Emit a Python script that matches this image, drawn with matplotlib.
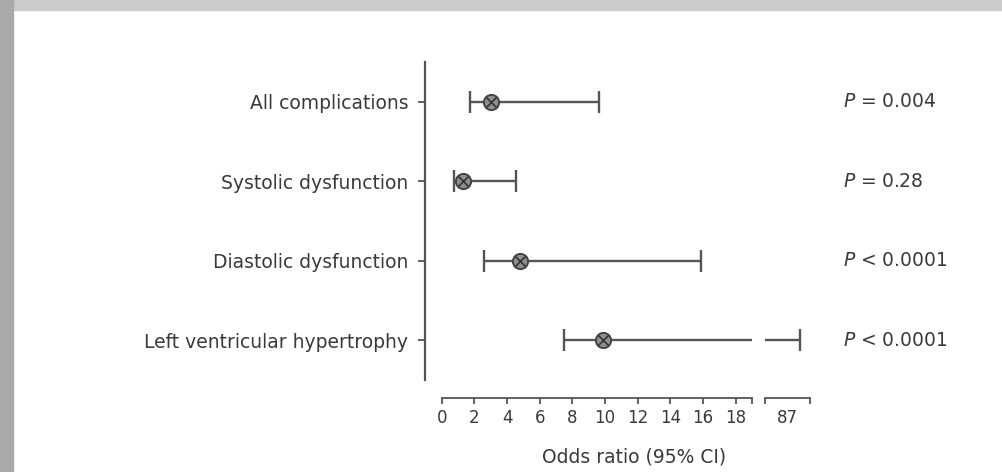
import matplotlib
matplotlib.use('Agg')
import matplotlib.pyplot as plt
from matplotlib.patches import Rectangle
from matplotlib.transforms import blended_transform_factory
import numpy as np

# data
outcomes = ['All complications', 'Systolic dysfunction',
            'Diastolic dysfunction', 'Left ventricular hypertrophy']
odds = [3.0, 1.33, 4.8, 9.9]
ci_low = [1.74, 0.75, 2.6, 7.5]
ci_high = [9.65, 4.54, 15.85, 87.8]
p_labels = ['$P$ = 0.004', '$P$ = 0.28', '$P$ < 0.0001', '$P$ < 0.0001']
x_ticks = [0, 2, 4, 6, 8, 10, 12, 14, 16, 18]

plt.rcParams['font.family'] = ['DejaVu Sans']
plt.rcParams['mathtext.fontset'] = 'dejavusans'

W, H = 1003, 472
fig = plt.figure(figsize=(W / 100, H / 100), dpi=100)
fig.patch.set_facecolor('white')

# grey frame from the screenshot
fig.patches.append(Rectangle((0, 1 - 10 / H), 1, 10 / H, transform=fig.transFigure,
                             color='#cbcbcb', zorder=0))
fig.patches.append(Rectangle((0, 0), 13 / W, 1, transform=fig.transFigure,
                             color='#a9a9a9', zorder=0))

txt = '#3a3a3a'
line = '#555555'

top = 1 - 62 / H
bot = 1 - 380 / H
ax1 = fig.add_axes([441.7 / W, bot, (752 - 441.7) / W, top - bot])
ax2 = fig.add_axes([765 / W, bot, (810 - 765) / W, top - bot])

y = np.arange(len(outcomes))
xerr = [np.array(odds) - np.array(ci_low), np.array(ci_high) - np.array(odds)]

for ax in (ax1, ax2):
    ax.errorbar(odds, y, xerr=xerr, fmt='none', ecolor=line, elinewidth=1.7,
                capsize=8, capthick=1.7, zorder=2)
    ax.scatter(odds, y, s=120, facecolor='#8f8f8f', edgecolor='#444444',
               linewidth=1.4, zorder=3)
    ax.scatter(odds, y, s=50, marker='x', color='#333333', linewidth=1.2, zorder=4)
    ax.set_ylim(len(outcomes) - 0.5, -0.5)
    ax.spines['top'].set_visible(False)
    ax.spines['right'].set_visible(False)
    ax.spines['bottom'].set_position(('outward', 13))
    ax.spines['bottom'].set_color(line)
    ax.spines['bottom'].set_linewidth(1.3)
    ax.tick_params(axis='x', direction='out', length=4, width=1.3, color=line,
                   labelsize=12, labelcolor=txt, pad=4)

ax1.set_xlim(0, 19)
ax1.set_xticks(x_ticks + [19])
ax1.set_xticklabels([str(t) for t in x_ticks] + [''])
ax1.spines['left'].set_position(('outward', 12))
ax1.spines['left'].set_color(line)
ax1.spines['left'].set_linewidth(1.6)
ax1.set_yticks(y)
ax1.set_yticklabels(outcomes)
ax1.tick_params(axis='y', direction='out', length=5, width=1.3, color=line,
                labelsize=13.5, labelcolor=txt, pad=7)

ax2.set_xlim(85.6, 88.4)
ax2.set_xticks([85.6, 88.4])
ax2.set_xticklabels(['', ''])
ax2.set_xticks([87], minor=True)
ax2.set_xticklabels(['87'], minor=True)
ax2.tick_params(axis='x', which='minor', length=0, labelsize=12, labelcolor=txt, pad=8)
ax2.spines['left'].set_visible(False)
ax2.set_yticks([])

# P values at the right, aligned with each row
ptrans = blended_transform_factory(fig.transFigure, ax1.transData)
for yi, lab in zip(y, p_labels):
    ax1.text(843 / W, yi, lab, fontsize=13.5, color=txt, va='center', ha='left',
             transform=ptrans, clip_on=False)

fig.text(634 / W, 1 - 457 / H, 'Odds ratio (95% CI)', fontsize=13.5, color=txt,
         ha='center', va='center')

plt.savefig('out.png', dpi=100)
